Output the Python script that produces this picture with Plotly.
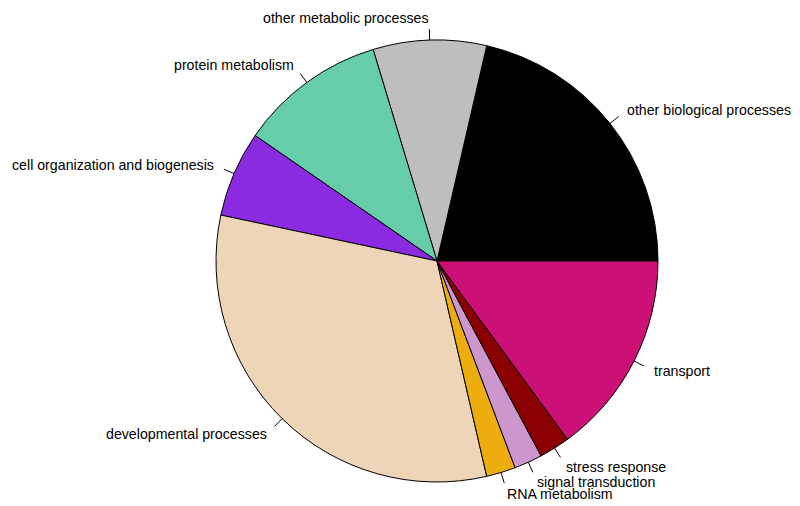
import math
import plotly.graph_objects as go

categories = ["other biological processes", "other metabolic processes", "protein metabolism",
              "cell organization and biogenesis", "developmental processes", "RNA metabolism",
              "signal transduction", "stress response", "transport"]
values = [77.0, 29.8, 38.6, 22.6, 115.0, 7.7, 7.4, 8.1, 53.8]
colors = ["#000000", "#BEBEBE", "#66CDAA", "#8A2BE2", "#EED5B7",
          "#EEAD0E", "#CD96CD", "#8B0000", "#CD1076"]

# the page body adds an 8px margin, so the figure is drawn 8px smaller and shifted
OFF = 8
W, H = 800 - OFF, 506 - OFF
cx, cy, r = 437 - OFF, 261 - OFF, 221

total = sum(values)
# plotly's counterclockwise pie puts the far edge of the first slice at `rotation`
rot = 90 - 360.0 * values[0] / total

fig = go.Figure(go.Pie(
    labels=categories,
    values=values,
    sort=False,
    direction="counterclockwise",
    rotation=rot,
    marker=dict(colors=colors, line=dict(color="black", width=1)),
    textinfo="none",
    hoverinfo="label+percent",
    showlegend=False,
    domain=dict(x=[(cx - r) / W, (cx + r) / W], y=[1 - (cy + r) / H, 1 - (cy - r) / H]),
))

# Labels with short tick lines, placed like base R's pie()
shapes, annotations = [], []
start = 0.0
for lab, v in zip(categories, values):
    mid = 2 * math.pi * (start + v / 2) / total
    start += v
    c, s = math.cos(mid), math.sin(mid)
    shapes.append(dict(type="line", xref="paper", yref="paper",
                       x0=(cx + r * c) / W, y0=1 - (cy - r * s) / H,
                       x1=(cx + 1.05 * r * c) / W, y1=1 - (cy - 1.05 * r * s) / H,
                       line=dict(color="black", width=1)))
    annotations.append(dict(text=lab, xref="paper", yref="paper", showarrow=False,
                            x=(cx + 1.1 * r * c) / W, y=1 - (cy - 1.1 * r * s) / H,
                            xanchor="left" if c > 0 else "right", yanchor="middle",
                            xshift=-2 if c > 0 else 2,
                            font=dict(size=14.2, color="black")))

fig.update_layout(
    width=W, height=H,
    margin=dict(l=0, r=0, t=0, b=0),
    paper_bgcolor="white",
    plot_bgcolor="white",
    font=dict(family="Liberation Sans, Arial, sans-serif"),
    shapes=shapes,
    annotations=annotations,
)

fig.write_html("out.html")
